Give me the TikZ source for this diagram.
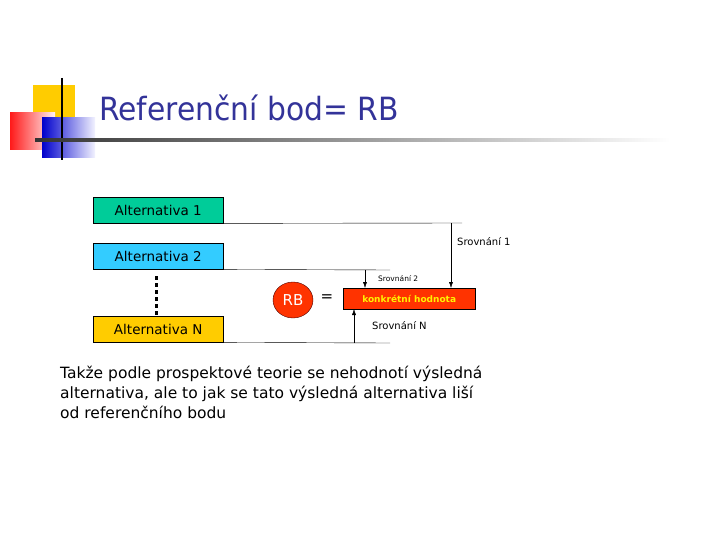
\documentclass[tikz,border=0pt]{standalone}
\usepackage{fontspec}
\setmainfont{DejaVu Sans}
\usetikzlibrary{arrows.meta,shapes.geometric}
\definecolor{ttl}{HTML}{333399}
\definecolor{altg}{HTML}{00CC99}
\definecolor{altc}{HTML}{33CCFF}
\definecolor{alty}{HTML}{FFCC00}
\definecolor{rbred}{HTML}{FF3300}
\begin{document}
\begin{tikzpicture}[x=1pt,y=-1pt,
  alt/.style={draw=black,minimum width=130pt,minimum height=26pt,inner sep=0pt,font=\fontsize{13.5}{13.5}\selectfont,anchor=north west},
  lbl/.style={font=\fontsize{10}{10}\selectfont,inner sep=0pt},
  arr/.style={-{Latex[length=6pt,width=4pt]}}]
\useasboundingbox (0,0) rectangle (720,540);
% decoration
\fill[alty] (33,85) rectangle (75,125);
\shade[left color=red!90, right color=red!5] (10,113) rectangle (55,150);
\shade[left color=blue!80!black, right color=blue!5] (42,118) rectangle (95,158);
\draw[line width=1.5pt] (62,78) -- (62,160);
\shade[left color=black!80, right color=white] (35,139) rectangle (670,141.5);
\node[anchor=west,text=ttl,font=\fontsize{32}{32}\selectfont,inner sep=0pt,xscale=0.93] (title) at (99,108) {Referenční bod= RB};
% alternatives
\node[alt,fill=altg] (a1) at (93,197) {Alternativa 1};
\node[alt,fill=altc] (a2) at (93,243) {Alternativa 2};
\node[alt,fill=alty] (an) at (93,316) {Alternativa N};
\draw[line width=3pt,dash pattern=on 4pt off 3pt] (156,276) -- (156,316);
% result box
\node[draw=black,fill=rbred,minimum width=132pt,minimum height=21pt,inner sep=0pt,anchor=north west,text=yellow,font=\bfseries\fontsize{9}{9}\selectfont] (k) at (343,288) {konkrétní hodnota};
\node[draw=black!70!red,fill=rbred,ellipse,minimum width=40pt,minimum height=36pt,inner sep=0pt,text=white,font=\fontsize{15}{15}\selectfont] (rb) at (293,300) {RB};
\node[font=\fontsize{15}{15}\selectfont] (eq) at (327,298) {=};
% lines and arrows
\coordinate (e1) at (462,223);
\coordinate (e2) at (390,270);
\coordinate (en) at (390,343);
\draw (a1.south east) -- (e1);
\draw (a2.south east) -- (e2);
\draw (an.south east) -- (en);
\draw[arr] (451,223) -- (451,288);
\draw[arr] (365,270) -- (365,288);
\draw[arr] (354,343) -- (354,309);
\node[lbl,anchor=west] (s1) at (457,242) {Srovnání 1};
\node[lbl,anchor=west,font=\fontsize{7.5}{7.5}\selectfont] (s2) at (378,279) {Srovnání 2};
\node[lbl,anchor=west] (sn) at (372,326) {Srovnání N};
% paragraph
\node[anchor=north west,align=left,inner sep=0pt,font=\fontsize{15.5}{20}\selectfont] (txt) at (60,366) {Takže podle prospektové teorie se nehodnotí výsledná\\alternativa, ale to jak se tato výsledná alternativa liší\\od referenčního bodu};
\end{tikzpicture}
\end{document}
